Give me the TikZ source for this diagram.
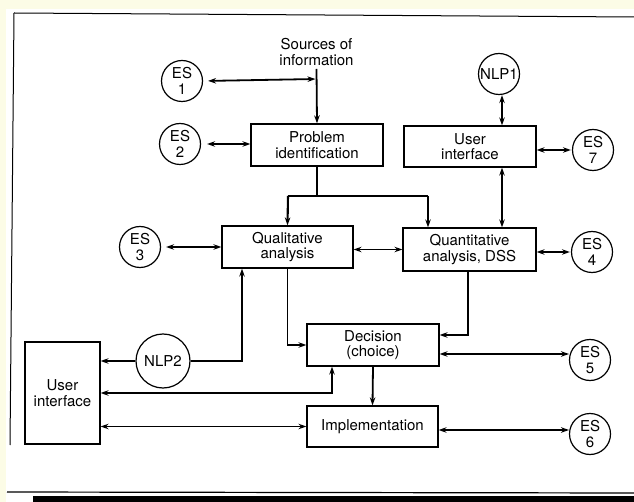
\documentclass[tikz,border=0pt]{standalone}
\usepackage{fontspec}
\setmainfont{TeX Gyre Heros}
\usetikzlibrary{arrows.meta}
\definecolor{paper}{RGB}{252,252,230}
\begin{document}
\begin{tikzpicture}[x=1pt,y=-1pt,
  every node/.style={font=\fontsize{15}{15.5}\selectfont, align=center},
  box/.style={draw, line width=1.2pt, inner sep=0pt, minimum width=132pt, minimum height=42pt},
  es/.style={circle, draw, line width=1.2pt, inner sep=0pt, minimum size=41pt},
  link/.style={line width=1.8pt},
  tip/.style={link, -{Stealth[length=8pt,width=5.5pt]}},
  both/.style={link, {Stealth[length=8pt,width=5.5pt]}-{Stealth[length=8pt,width=5.5pt]}},
  ]
\useasboundingbox (0,0) rectangle (634,502);

% page background and frame
\fill[paper] (0,0) rectangle (634,502);
\fill[white] (6,9) rectangle (634,502);
\draw[line width=1pt] (14,13) -- (634,17);
\draw[line width=1pt] (14,13) -- (10,445);
\draw[line width=1.2pt] (7,492) -- (634,493);
\fill[black] (33,496) rectangle (634,502);

% nodes
\node (srcs) at (316.5,52) {Sources of\\information};
\node[es] (ES1) at (182,81) {ES\\1};
\node[es] (ES2) at (180,144) {ES\\2};
\node[box] (prob) at (317,145) {Problem\\identification};
\node[es] (NLP1) at (499,74) {NLP1};
\node[box, minimum height=41pt] (ui1) at (470,146.5) {User\\interface};
\node[es] (ES7) at (593,150) {ES\\7};
\node[es] (ES3) at (140,247) {ES\\3};
\node[box, minimum width=131pt] (qual) at (287.5,247) {Qualitative\\analysis};
\node[box, minimum width=133pt, minimum height=43pt] (quant) at (469.5,249.5) {Quantitative\\analysis, DSS};
\node[es] (ES4) at (592,252) {ES\\4};
\node[es, minimum size=54pt] (NLP2) at (163,361) {NLP2};
\node[box, minimum width=75pt, minimum height=102pt] (ui2) at (62.5,393) {User\\interface};
\node[box] (dec) at (373,345) {Decision\\(choice)};
\node[es] (ES5) at (590,360) {ES\\5};
\node[box, minimum width=131pt, minimum height=41pt] (impl) at (372.5,426.5) {Implementation};
\node[es] (ES6) at (590,434) {ES\\6};

% helper points
\coordinate (s1) at (316.5,79);
\coordinate (j1) at (317,196);
\coordinate (jl) at (288,196);
\coordinate (jr) at (428,196);
\coordinate (ux) at (502,0);
\coordinate (q2) at (468,335);
\coordinate (n2) at (242,361);
\coordinate (d2) at (332,393);
\coordinate (e5) at (569,354);
\coordinate (e6) at (569,430);

% connectors
\draw[tip] (srcs.south) -- (prob.north);
\draw[both, shorten <=5pt, shorten >=1pt] (ES1.east) -- (s1);
\draw[both, shorten <=6pt] (ES2.east) -- (ES2.east -| prob.west);
\draw[link, line width=2.1pt] (prob.south) -- (j1);
\draw[link, line width=2.1pt] (jl) -- (jr);
\draw[tip, line width=2.1pt] (jl) -- (qual.north);
\draw[tip, line width=2.1pt] (jr) -- (jr |- quant.north);
\draw[both] (ux |- NLP1.south) -- (ux |- ui1.north);
\draw[both, shorten >=1pt] (ui1.east |- ES7) -- (ES7.west);
\draw[both] (ux |- ui1.south) -- (ux |- quant.north);
\draw[both, shorten <=5pt] (ES3.east) -- (ES3.east -| qual.west);
\draw[both] (qual.east |- quant.west) -- (quant.west);
\draw[both, shorten >=1pt] (quant.east |- ES4) -- (ES4.west);
\draw[tip] (qual.south) |- (dec.west);
\draw[tip] (quant.south -| q2) -- (q2) -- (dec.east |- q2);
\draw[tip] (NLP2.east) -- (n2) -- (n2 |- qual.south);
\draw[tip] (NLP2.west) -- (NLP2.west -| ui2.east);
\draw[both] (d2 |- dec.south) -- (d2) -- (d2 -| ui2.east);
\draw[both] (ui2.east |- impl.west) -- (impl.west);
\draw[tip] (dec.south) -- (impl.north);
\draw[both] (dec.east |- e5) -- (e5);
\draw[both] (impl.east |- e6) -- (e6);
\end{tikzpicture}
\end{document}
